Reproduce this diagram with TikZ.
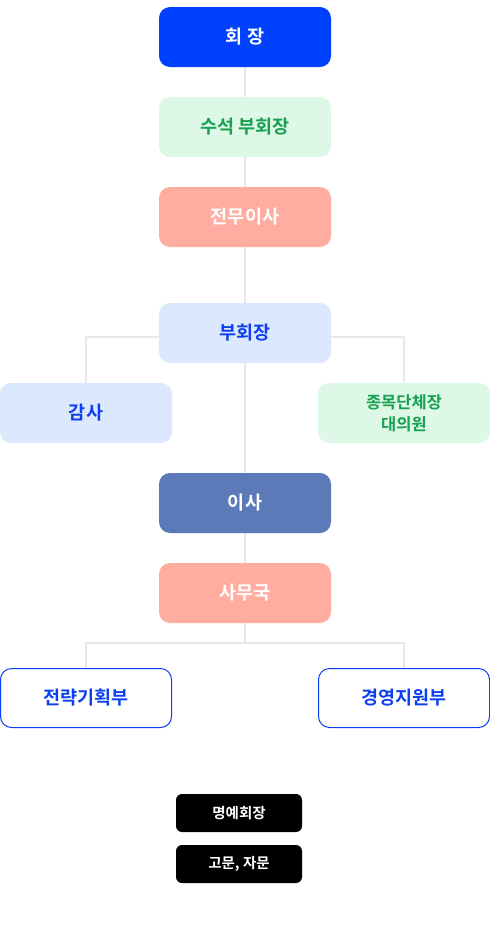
\documentclass[tikz,border=0pt]{standalone}
\usepackage{fontspec}
\setmainfont{Noto Sans CJK KR}[BoldFont={* Bold}]
\usetikzlibrary{backgrounds}
\definecolor{cBlue}{HTML}{0041FF}
\definecolor{cGreenBg}{HTML}{DDF8E6}
\definecolor{cGreenTx}{HTML}{16A050}
\definecolor{cSalmon}{HTML}{FFADA1}
\definecolor{cLBlue}{HTML}{DCE8FD}
\definecolor{cBlueTx}{HTML}{0C3FF2}
\definecolor{cSlate}{HTML}{5C7AB8}
\definecolor{cLine}{HTML}{E8E8E8}
\tikzset{
  box/.style={rounded corners=11pt, minimum width=172pt, minimum height=60pt, inner sep=0pt, align=center, font=\bfseries\fontsize{18.5}{20}\selectfont},
  chief/.style={box, fill=cBlue, text=white},
  green/.style={box, fill=cGreenBg, text=cGreenTx},
  salmon/.style={box, fill=cSalmon, text=white},
  lblue/.style={box, fill=cLBlue, text=cBlueTx},
  slate/.style={box, fill=cSlate, text=white},
  dept/.style={box, fill=white, draw=cBlueTx, text=cBlueTx, line width=1pt, minimum width=171pt, minimum height=59pt},
  small/.style={rounded corners=6pt, minimum width=126pt, minimum height=38pt, inner sep=0pt, fill=black, text=white, font=\bfseries\fontsize{14.5}{16}\selectfont},
  conn/.style={draw=cLine, line width=2pt}
}
\begin{document}
\begin{tikzpicture}[x=1pt,y=-1pt]
\useasboundingbox (0,0) rectangle (490,930);
\node[chief] (chair) at (245,37) {회 장};
\node[green] (senior) at (245,127) {수석 부회장};
\node[salmon] (exec) at (245,217) {전무이사};
\node[lblue] (vice) at (245,333) {부회장};
\node[lblue] (audit) at (86,413) {감사};
\node[green,font=\bfseries\fontsize{16.5}{22}\selectfont] (rep) at (404,413) {종목단체장\\대의원};
\node[slate] (dir) at (245,503) {이사};
\node[salmon] (sec) at (245,593) {사무국};
\node[dept] (plan) at (86,698) {전략기획부};
\node[dept] (mgmt) at (404,698) {경영지원부};
\node[small] (hon) at (239,813) {명예회장};
\node[small] (adv) at (239,864) {고문, 자문};
\coordinate (split) at (245,643);
\begin{scope}[on background layer]
\draw[conn] (chair) -- (senior);
\draw[conn] (senior) -- (exec);
\draw[conn] (exec) -- (vice);
\draw[conn] (vice) -- (dir);
\draw[conn] (dir) -- (sec);
\draw[conn] ([yshift=-4pt]vice.west) -| (audit.north);
\draw[conn] ([yshift=-4pt]vice.east) -| (rep.north);
\draw[conn] (sec.south) -- (split);
\draw[conn] (split) -| (plan.north);
\draw[conn] (split) -| (mgmt.north);
\end{scope}
\end{tikzpicture}
\end{document}
